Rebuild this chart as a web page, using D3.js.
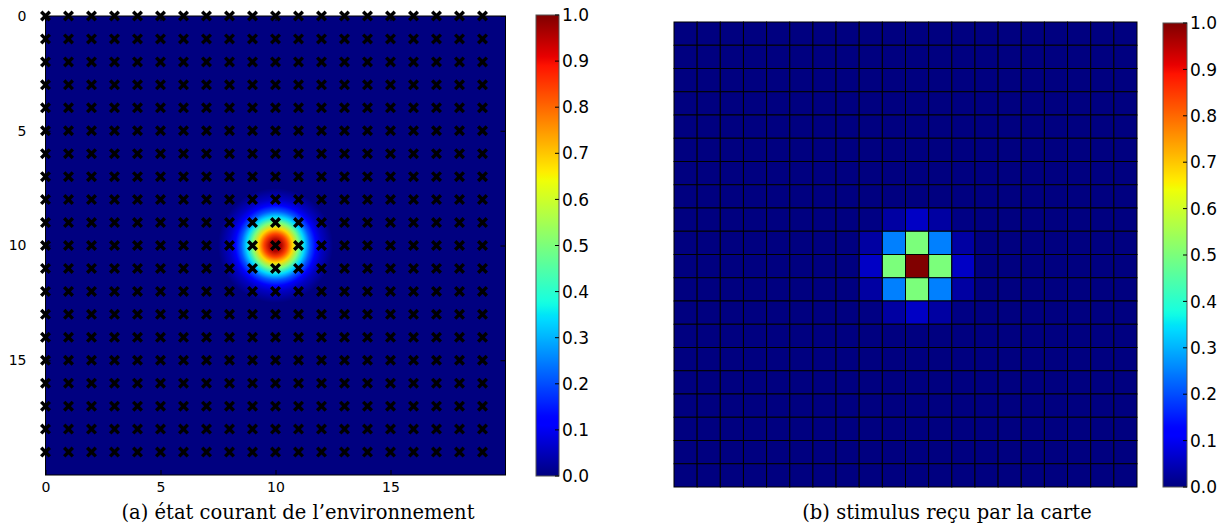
<!DOCTYPE html>
<html>
<head>
<meta charset="utf-8">
<script src="https://cdn.jsdelivr.net/npm/d3@7"></script>
<style>
  body { margin: 0; background: #fff; }
  svg { display: block; }
</style>
</head>
<body>
<div id="chart"></div>
<script>
// ---- data ----
var gridSize = 20;
var axisTicks = [0, 5, 10, 15];
var colorbarTicks = [0.0, 0.1, 0.2, 0.3, 0.4, 0.5, 0.6, 0.7, 0.8, 0.9, 1.0];

// sampling points (crosses) of panel (a)
var markerCols = [0, 1, 2, 3, 4, 5, 6, 7, 8, 9, 10, 11, 12, 13, 14, 15, 16, 17, 18, 19];
var markerRows = [0, 1, 2, 3, 4, 5, 6, 7, 8, 9, 10, 11, 12, 13, 14, 15, 16, 17, 18, 19];

// environment blob of panel (a): centre and radial profile
var blobCenter = [10, 10];
var blobDist = [0, 0.25, 0.5, 0.75, 1.0, 1.25, 1.5, 1.75, 2.0, 2.25, 2.5];
var blobValue = [1.0, 0.96, 0.84, 0.68, 0.5, 0.34, 0.21, 0.12, 0.06, 0.03, 0.0];

// non-zero cells of panel (b) (all others are 0)
var stimCol = [10, 10, 10, 9, 11, 9, 11, 9, 11, 10, 10, 8, 12, 9, 11, 9, 11, 8, 8, 12, 12, 8, 12, 8, 12];
var stimRow = [10, 9, 11, 10, 10, 9, 9, 11, 11, 8, 12, 10, 10, 8, 8, 12, 12, 9, 11, 9, 11, 8, 8, 12, 12];
var stimValue = [1.0, 0.5, 0.5, 0.5, 0.5, 0.25, 0.25, 0.25, 0.25, 0.06, 0.06, 0.06, 0.06,
                 0.03, 0.03, 0.03, 0.03, 0.03, 0.03, 0.03, 0.03, 0.004, 0.004, 0.004, 0.004];

var captionA = "(a) état courant de l’environnement";
var captionB = "(b) stimulus reçu par la carte";

// ---- jet colormap ----
var jetR = d3.scaleLinear().domain([0, 0.35, 0.66, 0.89, 1]).range([0, 0, 1, 1, 0.5]).clamp(true);
var jetG = d3.scaleLinear().domain([0, 0.125, 0.375, 0.64, 0.91, 1]).range([0, 0, 1, 1, 0, 0]).clamp(true);
var jetB = d3.scaleLinear().domain([0, 0.11, 0.34, 0.65, 1]).range([0.5, 1, 1, 0, 0]).clamp(true);
function jet(t) {
  return d3.rgb(jetR(t) * 255, jetG(t) * 255, jetB(t) * 255).formatHex();
}

var width = 1232, height = 526;
var svg = d3.select("#chart").append("svg")
  .attr("width", width)
  .attr("height", height)
  .style("font-family", "'DejaVu Sans', sans-serif");

var defs = svg.append("defs");

// colorbar gradient
var cbGrad = defs.append("linearGradient")
  .attr("id", "cbgrad")
  .attr("x1", 0).attr("y1", 1).attr("x2", 0).attr("y2", 0);
cbGrad.selectAll("stop")
  .data(d3.range(0, 101))
  .enter().append("stop")
  .attr("offset", function(d) { return d + "%"; })
  .attr("stop-color", function(d) { return jet(d / 100); });

// ================= panel (a) =================
var xL = d3.scaleLinear().domain([0, gridSize]).range([45.5, 505.5]);
var yL = d3.scaleLinear().domain([0, gridSize]).range([16, 475]);

var gA = svg.append("g");

gA.append("rect")
  .attr("x", xL(0)).attr("y", yL(0))
  .attr("width", xL(gridSize) - xL(0))
  .attr("height", yL(gridSize) - yL(0))
  .attr("fill", jet(0));

var blobGrad = defs.append("radialGradient").attr("id", "blob");
blobGrad.selectAll("stop")
  .data(blobDist)
  .enter().append("stop")
  .attr("offset", function(d) { return (d / blobDist[blobDist.length - 1] * 100) + "%"; })
  .attr("stop-color", function(d, i) { return jet(blobValue[i]); });

gA.append("ellipse")
  .attr("cx", xL(blobCenter[0]))
  .attr("cy", yL(blobCenter[1]))
  .attr("rx", xL(blobDist[blobDist.length - 1]) - xL(0))
  .attr("ry", yL(blobDist[blobDist.length - 1]) - yL(0))
  .attr("fill", "url(#blob)");

// axes with inward ticks
function styleAxis(g) {
  g.select(".domain").remove();
  g.selectAll("text").attr("font-size", 14).attr("fill", "#000")
    .style("font-family", "'DejaVu Sans', sans-serif");
  g.selectAll("line").attr("stroke", "#000");
}
gA.append("g").attr("transform", "translate(" + xL(0) + ",0)")
  .call(d3.axisLeft(yL).tickValues(axisTicks).tickSize(-5).tickPadding(19))
  .call(styleAxis);
gA.append("g").attr("transform", "translate(0," + yL(gridSize) + ")")
  .call(d3.axisBottom(xL).tickValues(axisTicks).tickSize(-5).tickPadding(7))
  .call(styleAxis);
gA.append("g").attr("transform", "translate(" + xL(gridSize) + ",0)")
  .call(d3.axisRight(yL).tickValues(axisTicks).tickSize(-5).tickFormat(""))
  .call(styleAxis);
gA.append("g").attr("transform", "translate(0," + yL(0) + ")")
  .call(d3.axisTop(xL).tickValues(axisTicks).tickSize(-5).tickFormat(""))
  .call(styleAxis);

gA.append("rect")
  .attr("x", xL(0)).attr("y", yL(0))
  .attr("width", xL(gridSize) - xL(0))
  .attr("height", yL(gridSize) - yL(0))
  .attr("fill", "none").attr("stroke", "#000").attr("stroke-width", 1);

// crosses
var points = d3.cross(markerCols, markerRows);
var s = 4.3;
gA.selectAll(".cross")
  .data(points)
  .enter().append("path")
  .attr("class", "cross")
  .attr("d", function(d) {
    var cx = xL(d[0]), cy = yL(d[1]);
    return "M" + (cx - s) + "," + (cy - s) + "L" + (cx + s) + "," + (cy + s) +
           "M" + (cx - s) + "," + (cy + s) + "L" + (cx + s) + "," + (cy - s);
  })
  .attr("stroke", "#000")
  .attr("stroke-width", 3.4);

// ================= panel (b) =================
var cells = d3.range(gridSize);
var xR = d3.scaleBand().domain(cells).range([674, 1137]);
var yR = d3.scaleBand().domain(cells).range([22, 487]);

var stimLookup = {};
stimValue.forEach(function(v, i) { stimLookup[stimRow[i] + "_" + stimCol[i]] = v; });

var gB = svg.append("g");
gB.selectAll(".cell")
  .data(d3.cross(cells, cells))
  .enter().append("rect")
  .attr("class", "cell")
  .attr("x", function(d) { return xR(d[0]); })
  .attr("y", function(d) { return yR(d[1]); })
  .attr("width", xR.bandwidth())
  .attr("height", yR.bandwidth())
  .attr("fill", function(d) { return jet(stimLookup[d[1] + "_" + d[0]] || 0); })
  .attr("stroke", "#000")
  .attr("stroke-width", 1);

// ================= colorbars =================
function colorbar(x, y0, y1, w) {
  var sc = d3.scaleLinear().domain([0, 1]).range([y1, y0]);
  var g = svg.append("g");
  g.append("rect")
    .attr("x", x).attr("y", y0)
    .attr("width", w).attr("height", y1 - y0)
    .attr("fill", "url(#cbgrad)")
    .attr("stroke", "#555").attr("stroke-width", 1);
  g.selectAll(".cbtick")
    .data(colorbarTicks)
    .enter().append("line")
    .attr("x1", x + w - 4).attr("x2", x + w)
    .attr("y1", function(d) { return sc(d); })
    .attr("y2", function(d) { return sc(d); })
    .attr("stroke", "#000");
  g.selectAll(".cblabel")
    .data(colorbarTicks)
    .enter().append("text")
    .attr("x", x + w + 3)
    .attr("y", function(d) { return sc(d); })
    .attr("dy", "0.36em")
    .attr("font-size", 17)
    .text(function(d) { return d3.format(".1f")(d); });
}
colorbar(536, 15, 476, 23);
colorbar(1163, 23, 487, 24);

// ================= captions =================
svg.append("text")
  .attr("x", 298).attr("y", 519)
  .attr("text-anchor", "middle")
  .style("font-family", "'DejaVu Serif', serif")
  .attr("font-size", 19.5)
  .text(captionA);
svg.append("text")
  .attr("x", 947).attr("y", 519)
  .attr("text-anchor", "middle")
  .style("font-family", "'DejaVu Serif', serif")
  .attr("font-size", 19.5)
  .text(captionB);
</script>
</body>
</html>
